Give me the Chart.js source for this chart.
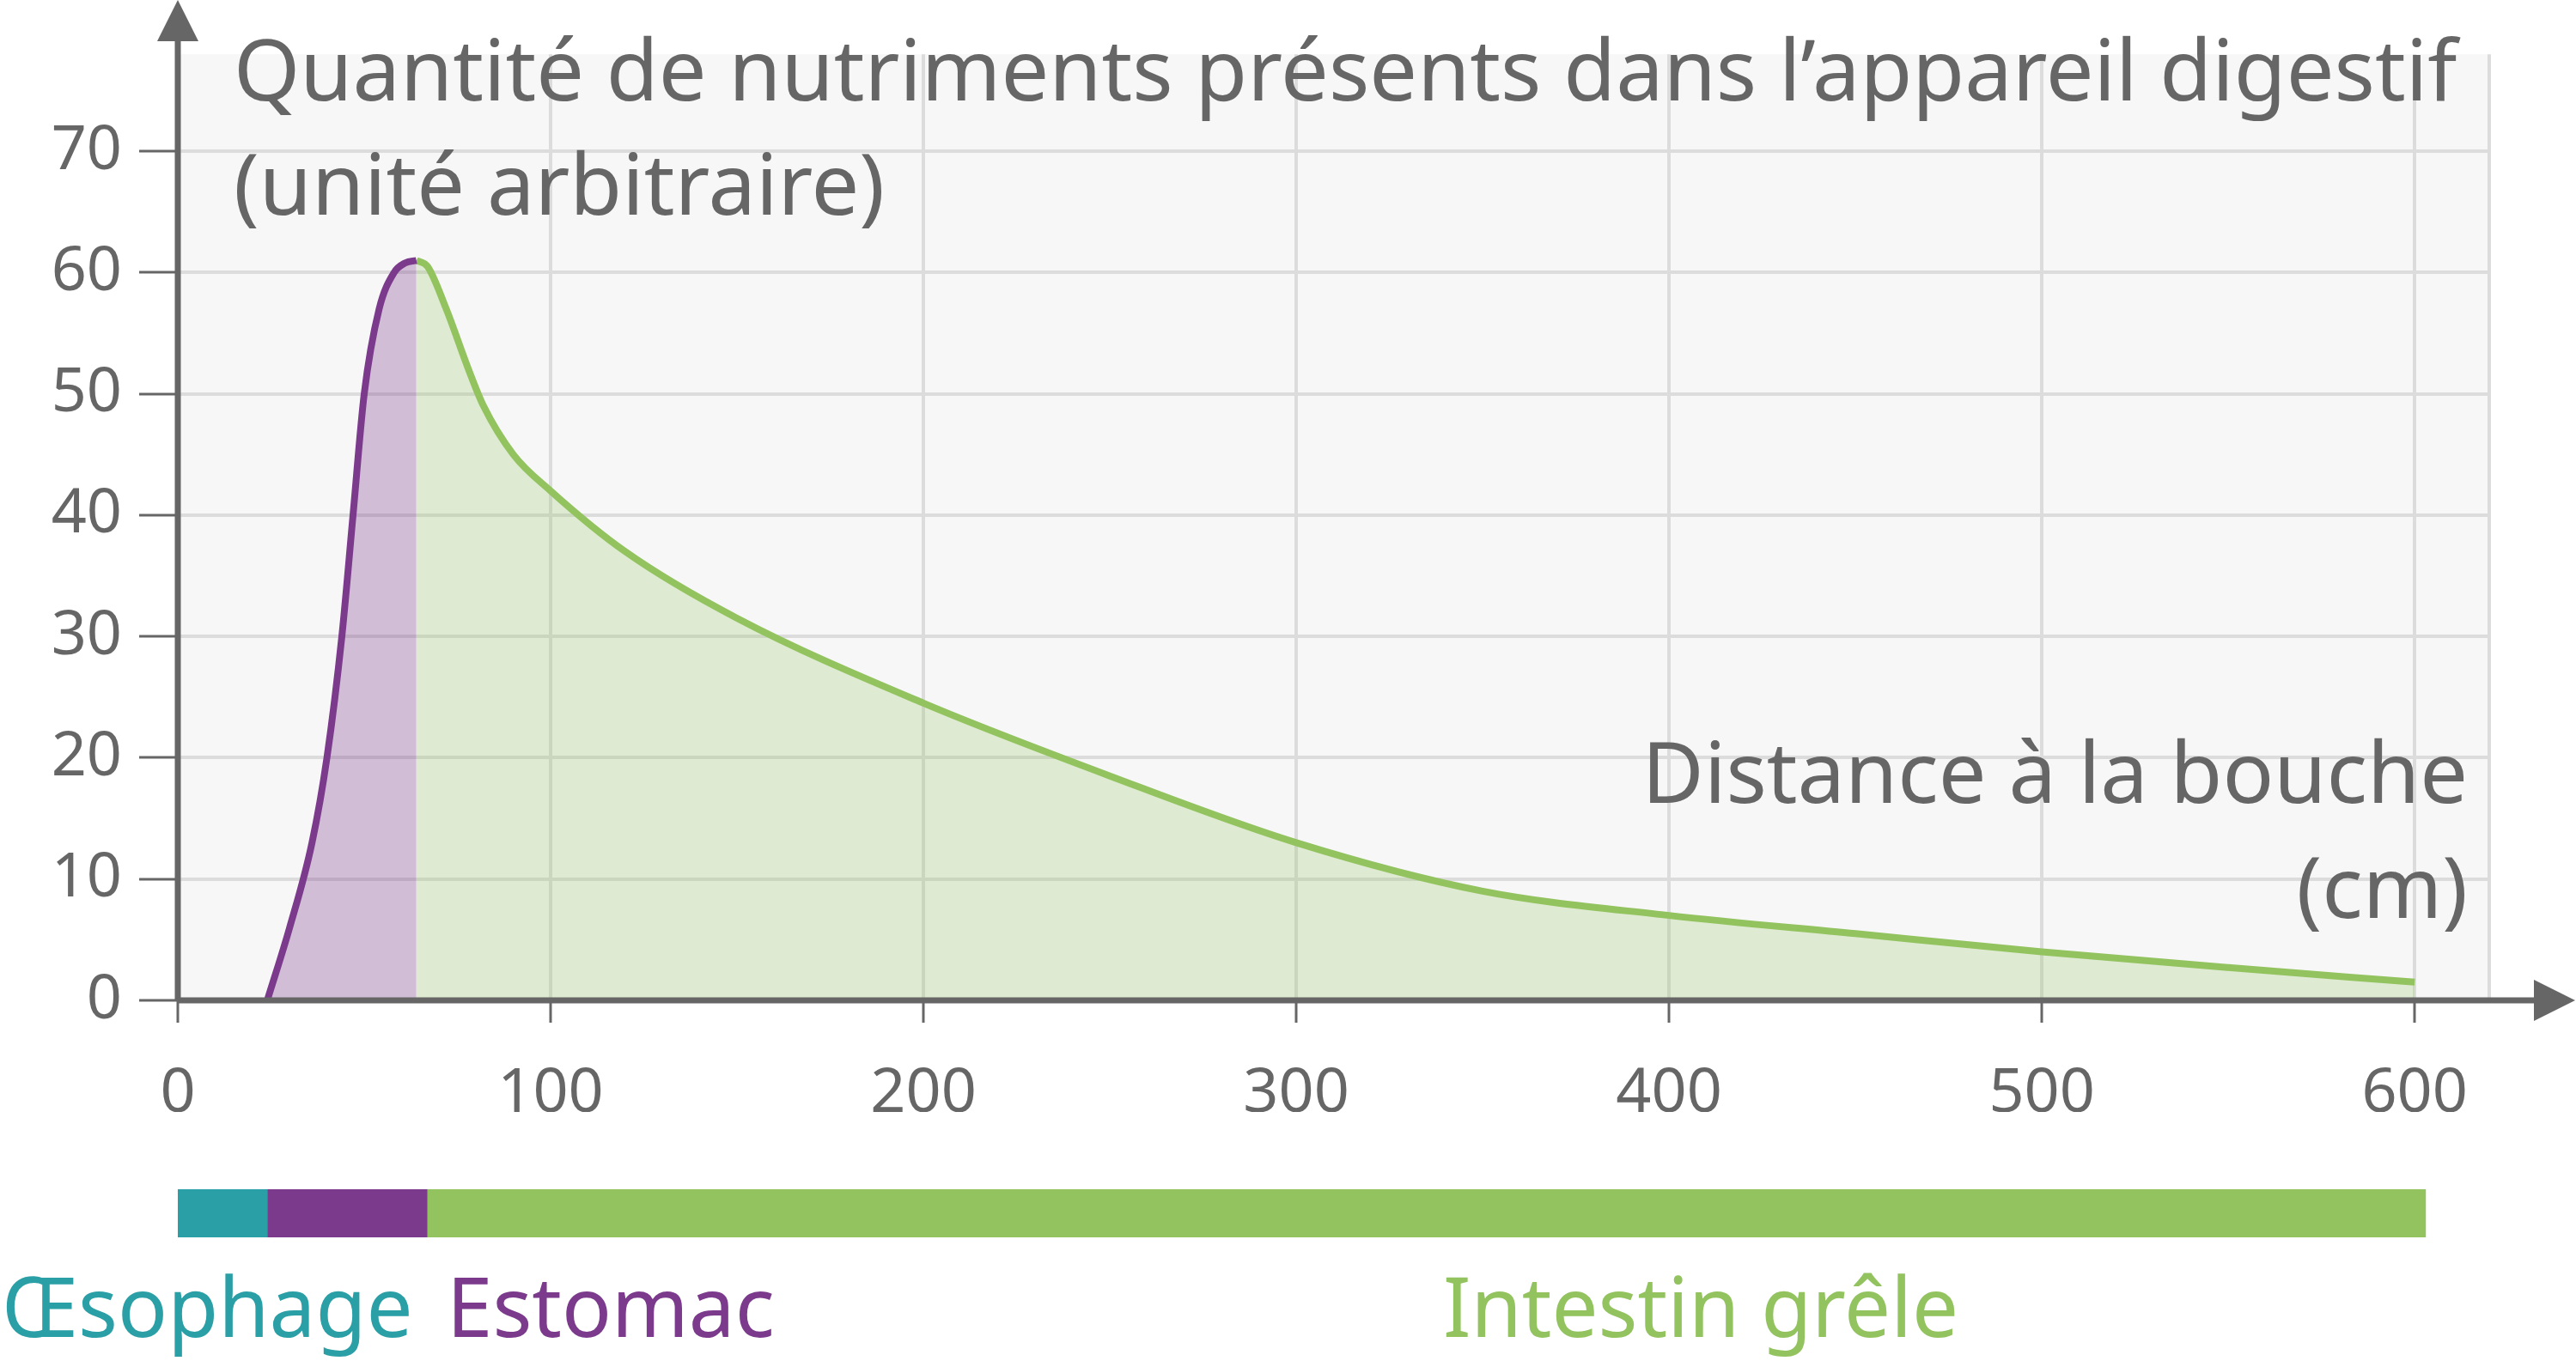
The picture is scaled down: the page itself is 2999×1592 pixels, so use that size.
<!DOCTYPE html>
<html><head><meta charset="utf-8">
<script src="https://cdn.jsdelivr.net/npm/chart.js@4"></script>
<style>html,body{margin:0;padding:0;background:#fff}canvas{display:block}</style>
</head><body>
<div style="width:2999px;height:1592px"><canvas id="c"></canvas></div>
<script>
const stomachX = [24, 30, 36, 40, 44, 47, 50, 54, 58, 61, 64];
const stomachY = [0, 6, 13, 20, 30, 40, 50, 57, 60, 60.8, 61];
const intestineX = [64, 67, 72, 78, 82, 90, 100, 120, 150, 200, 250, 300, 350, 400, 450, 500, 550, 600];
const intestineY = [61, 60.5, 57, 52, 49, 45, 42, 37, 31.5, 24.5, 18.5, 13, 9, 7, 5.5, 4, 2.7, 1.5];
const xTicks = [0, 100, 200, 300, 400, 500, 600];
const yTicks = [0, 10, 20, 30, 40, 50, 60, 70];
const segStart = [0, 24, 67];
const segEnd = [24, 67, 603];
const segColors = ['#2A9FA6', '#7B3A8C', '#92C35F'];
const segLabels = ['Œsophage', 'Estomac', 'Intestin grêle'];
const titleLines = ['Quantité de nutriments présents dans l’appareil digestif', '(unité arbitraire)'];
const xTitle = ['Distance à la bouche', '(cm)'];

const pts = (xs, ys) => xs.map((x, i) => ({x, y: ys[i]}));
const FONT = '"Noto Sans", sans-serif';
const GRAY = '#666';

const deco = {
  id: 'deco',
  beforeDraw(ch) {
    const a = ch.chartArea, c = ch.ctx;
    c.save(); c.fillStyle = '#f7f7f7';
    c.fillRect(a.left, a.top, a.right - a.left, a.bottom - a.top); c.restore();
  },
  afterDraw(ch) {
    const a = ch.chartArea, c = ch.ctx, xs = ch.scales.x;
    c.save();
    c.strokeStyle = GRAY; c.fillStyle = GRAY; c.lineWidth = 7;
    c.beginPath(); c.moveTo(a.left, a.bottom); c.lineTo(a.left, 30); c.stroke();
    c.beginPath(); c.moveTo(a.left, 0); c.lineTo(a.left - 24, 48); c.lineTo(a.left + 24, 48); c.closePath(); c.fill();
    c.beginPath(); c.moveTo(a.left, a.bottom); c.lineTo(2960, a.bottom); c.stroke();
    c.beginPath(); c.moveTo(2998, a.bottom); c.lineTo(2950, a.bottom - 24); c.lineTo(2950, a.bottom + 24); c.closePath(); c.fill();
    c.font = '99px ' + FONT; c.textAlign = 'left'; c.textBaseline = 'alphabetic';
    c.fillText(titleLines[0], 272, 117);
    c.fillText(titleLines[1], 272, 250);
    c.textAlign = 'right';
    c.fillText(xTitle[0], 2873, 935);
    c.fillText(xTitle[1], 2873, 1069);
    for (let i = 0; i < segStart.length; i++) {
      const x0 = xs.getPixelForValue(segStart[i]), x1 = xs.getPixelForValue(segEnd[i]);
      c.fillStyle = segColors[i]; c.fillRect(x0, 1385, x1 - x0, 56);
    }
    c.font = '96px ' + FONT; c.textAlign = 'left';
    c.fillStyle = segColors[0]; c.fillText(segLabels[0], 2, 1557);
    c.fillStyle = segColors[1]; c.fillText(segLabels[1], 520, 1557);
    c.fillStyle = segColors[2]; c.textAlign = 'center'; c.fillText(segLabels[2], 1980, 1557);
    c.restore();
  }
};

new Chart(document.getElementById('c'), {
  type: 'line',
  data: { datasets: [
    { data: pts(stomachX, stomachY), borderColor: '#7B3A8C', borderWidth: 8, backgroundColor: 'rgba(123,58,140,0.3)', fill: 'origin', pointRadius: 0, cubicInterpolationMode: 'monotone' },
    { data: pts(intestineX, intestineY), borderColor: '#92C35F', borderWidth: 8, backgroundColor: 'rgba(146,195,95,0.25)', fill: 'origin', pointRadius: 0, cubicInterpolationMode: 'monotone' }
  ]},
  options: {
    responsive: true, maintainAspectRatio: false, animation: false, devicePixelRatio: 1,
    layout: { padding: { top: 18, right: 101, bottom: 297, left: 0 } },
    plugins: { legend: { display: false }, tooltip: { enabled: false } },
    scales: {
      x: { type: 'linear', min: 0, max: 620,
        afterBuildTicks: s => { s.ticks = xTicks.concat([620]).map(v => ({value: v})); },
        afterFit: s => { s.height = 130; },
        border: { display: false },
        grid: { color: '#dcdcdc', lineWidth: 4, tickLength: 26, tickWidth: 3,
          tickColor: ctx => ctx.tick && ctx.tick.value === 620 ? 'rgba(0,0,0,0)' : GRAY },
        ticks: { color: GRAY, font: { size: 72, family: FONT }, padding: 40, maxRotation: 0,
          callback: v => v === 620 ? '' : String(v) } },
      y: { min: 0, max: 78,
        afterBuildTicks: s => { s.ticks = yTicks.map(v => ({value: v})); },
        afterFit: s => { s.width = 207; },
        border: { display: false },
        grid: { color: '#dcdcdc', lineWidth: 4, tickLength: 45, tickWidth: 3, tickColor: GRAY },
        ticks: { color: GRAY, font: { size: 72, family: FONT }, padding: 20 } }
    }
  },
  plugins: [deco]
});
</script>
</body></html>
